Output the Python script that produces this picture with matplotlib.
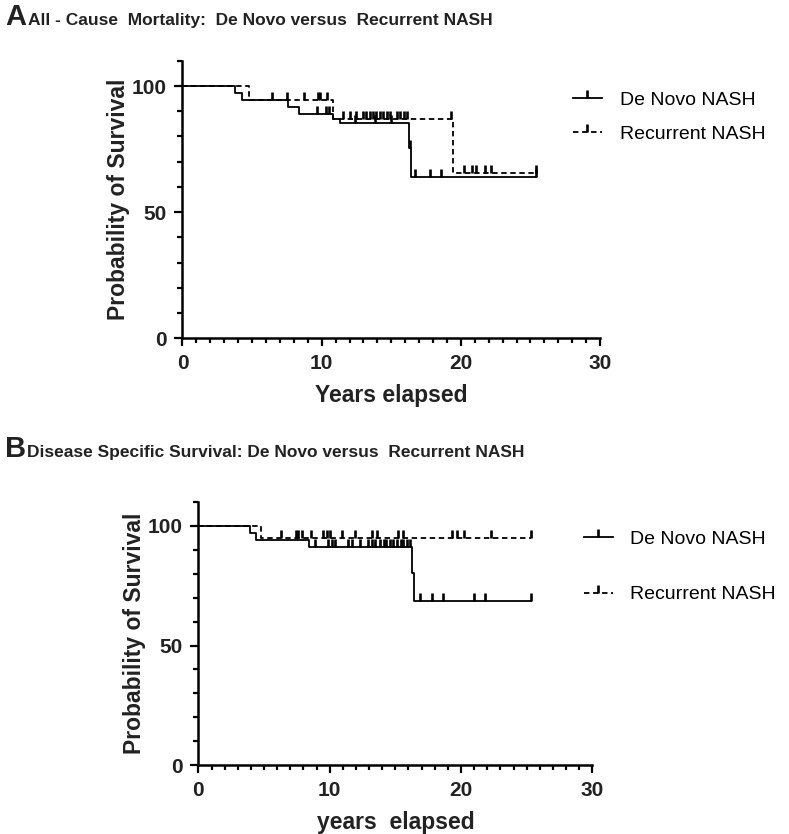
import numpy as np
import matplotlib
matplotlib.use('Agg')
import matplotlib.pyplot as plt
from matplotlib.ticker import MultipleLocator
from matplotlib.lines import Line2D

plt.rcParams['font.family'] = ['Liberation Sans', 'DejaVu Sans']

# Panel A - all-cause mortality (event times in years, survival in %)
a_denovo_t = [0, 3.8, 4.3, 7.6, 8.4, 10.8, 11.3, 16.3, 16.4, 25.4]
a_denovo_s = [100, 97.1, 94.5, 91.8, 88.8, 86.9, 85.2, 75.3, 64.1, 64.1]
a_denovo_cens = [6.4, 9.7, 10.3, 10.5, 12.4, 13.8, 15.0, 16.35, 16.7, 17.8, 18.6, 25.4]

a_recur_t = [0, 4.8, 10.8, 19.4, 25.4]
a_recur_s = [100, 94.5, 86.8, 65.5, 65.5]
a_recur_cens = [7.5, 8.7, 9.75, 9.9, 10.35, 11.5, 12.0, 12.5, 13.0, 13.2, 13.5,
                13.7, 13.9, 14.2, 14.4, 14.7, 14.9, 15.4, 15.6, 15.9, 16.1, 19.3,
                20.2, 20.8, 21.1, 21.7, 22.2, 25.4]

# Panel B - disease specific survival
b_denovo_t = [0, 3.9, 4.4, 8.4, 16.3, 16.4, 25.3]
b_denovo_s = [100, 96.9, 94.1, 91.3, 80.2, 68.6, 68.6]
b_denovo_cens = [8.9, 9.9, 10.15, 10.4, 11.4, 11.7, 12.3, 12.9, 13.2, 13.45, 13.8,
                 14.1, 14.3, 14.6, 14.8, 15.1, 15.4, 15.6, 15.9, 16.1, 16.9, 17.8,
                 18.6, 21.0, 21.8, 25.3]

b_recur_t = [0, 4.8, 25.3]
b_recur_s = [100, 94.9, 94.9]
b_recur_cens = [6.3, 7.4, 7.6, 7.9, 8.6, 9.5, 9.8, 10.0, 10.9, 11.9, 13.2, 13.6,
                15.2, 15.6, 19.3, 19.7, 20.2, 22.3, 25.3]

group_labels = ['De Novo NASH', 'Recurrent NASH']
xticks = [0, 10, 20, 30]
yticks = [0, 50, 100]


def surv_at(t, s, c):
    idx = np.searchsorted(t, c, side='right') - 1
    return np.array(s)[idx]


def km_curve(ax, t, s, cens, ls):
    if ls == '-':
        ax.step(t, s, where='post', color='black', lw=1.3, clip_on=False)
    else:
        ax.step(t, s, where='post', color='black', lw=1.3, ls=(0, (3, 2)), clip_on=False)
    ax.plot(cens, surv_at(t, s, cens), ls='none', marker=2, ms=5.5, mew=1.9,
            color='black', clip_on=False)


def style_axes(ax, xlabel):
    for side in ['top', 'right']:
        ax.spines[side].set_visible(False)
    for side in ['left', 'bottom']:
        ax.spines[side].set_linewidth(1.8)
    ax.set_xlim(0, 30)
    ax.set_ylim(0, 110)
    ax.set_xticks(xticks)
    ax.set_yticks(yticks)
    ax.xaxis.set_minor_locator(MultipleLocator(1))
    ax.yaxis.set_minor_locator(MultipleLocator(10))
    ax.tick_params(which='major', length=5.5, width=1.6, labelsize=15, pad=6,
                   labelcolor='#222222')
    ax.tick_params(which='minor', length=3.5, width=1.6)
    for lab in ax.get_xticklabels() + ax.get_yticklabels():
        lab.set_fontweight('bold')
    ax.set_xlabel(xlabel, fontsize=16.5, fontweight='bold', labelpad=8, color='#222222')
    ax.set_ylabel('Probability of Survival', fontsize=16.5, fontweight='bold',
                  labelpad=1, color='#222222')


def add_legend(ax, anchor, spacing):
    handles = [
        Line2D([], [], color='black', lw=1.3, marker=2, ms=5.5, mew=1.9),
        Line2D([], [], color='black', lw=1.3, ls=(0, (3, 2)), marker=2, ms=5.5, mew=1.9),
    ]
    ax.legend(handles, group_labels, loc='upper left', bbox_to_anchor=anchor,
              frameon=False, fontsize=14, numpoints=1, handlelength=1.5,
              handletextpad=0.9, labelspacing=spacing, borderpad=0, borderaxespad=0)


fig = plt.figure(figsize=(7.89, 8.34), dpi=100)

axA = fig.add_axes([0.2313, 0.5944, 0.5292, 0.3327])
km_curve(axA, a_denovo_t, a_denovo_s, a_denovo_cens, '-')
km_curve(axA, a_recur_t, a_recur_s, a_recur_cens, '--')
style_axes(axA, 'Years elapsed')
add_legend(axA, (0.935, 0.89), 0.85)

axB = fig.add_axes([0.2515, 0.0827, 0.4992, 0.3153])
km_curve(axB, b_denovo_t, b_denovo_s, b_denovo_cens, '-')
km_curve(axB, b_recur_t, b_recur_s, b_recur_cens, '--')
style_axes(axB, 'years  elapsed')
add_legend(axB, (0.978, 0.893), 1.95)

fig.text(5 / 789, 0.970, 'A', fontsize=21, fontweight='bold', va='baseline', color='#222222')
fig.text(28 / 789, 0.970, 'All - Cause  Mortality:  De Novo versus  Recurrent NASH',
         fontsize=12.5, fontweight='bold', va='baseline', color='#222222')
fig.text(5 / 789, 0.4517, 'B', fontsize=21, fontweight='bold', va='baseline', color='#222222')
fig.text(27 / 789, 0.4517, 'Disease Specific Survival: De Novo versus  Recurrent NASH',
         fontsize=12.5, fontweight='bold', va='baseline', color='#222222')

fig.savefig('out.png', dpi=100)
